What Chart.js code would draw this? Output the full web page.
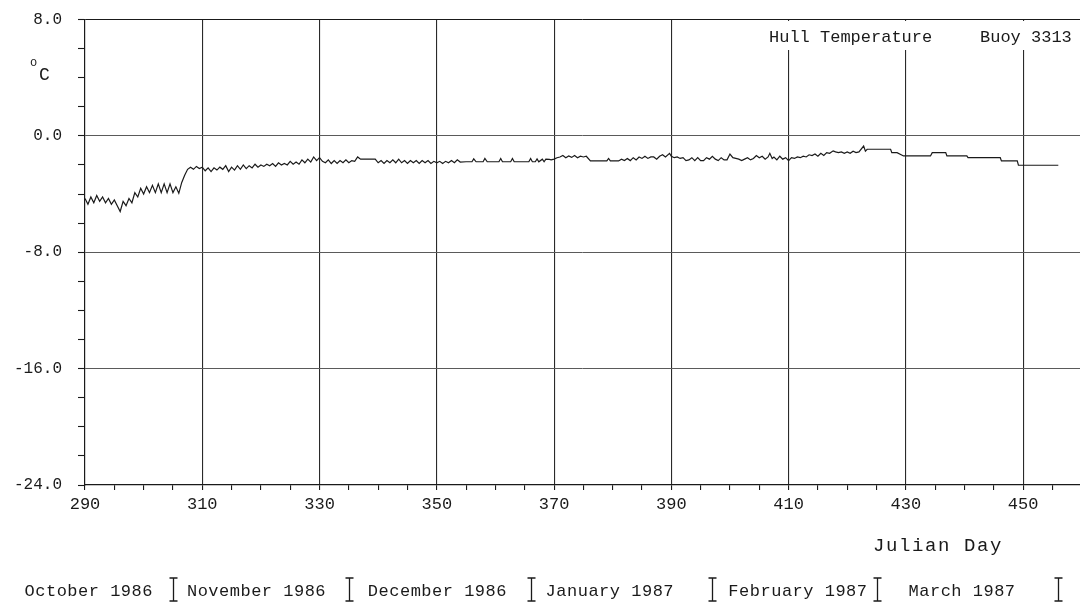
<!DOCTYPE html>
<html><head><meta charset="utf-8">
<script src="https://cdn.jsdelivr.net/npm/chart.js@4"></script>
<style>html,body{margin:0;padding:0;background:#fff}#wrap{width:1080px;height:607px}</style>
</head><body><div id="wrap"><canvas id="c" width="1080" height="607"></canvas></div>
<script>
// ---- data ----
const days = [
290,290.5,291,291.5,292,292.5,293,293.5,294,294.5, 295,295.5,296,296.5,297,297.5,298,298.5,299,299.5,
300,300.5,301,301.5,302,302.5,303,303.5,304,304.5, 305,305.5,306,306.5,307,307.5,308,308.5,309,309.5, 310,
310.5,311,311.5,312,312.5,313,313.5,314,314.5,315, 315.5,316,316.5,317,317.5,318,318.5,319,319.5,320,
320.5,321,321.5,322,322.5,323,323.5,324,324.5,325, 325.5,326,326.5,327,327.5,328,328.5,329,329.5,330,
330.5,331,331.5,332,332.5,333,333.5,334,334.5,335, 335.5,336,336.5,337,339.5,340,340.5,341,341.5,342,
342.5,343,343.5,344,344.5,345,345.5,346,346.5,347, 347.5,348,348.5,349,349.5,350,
350.5,351,351.5,352,352.5,353,353.5,354,355,356, 356.3,356.7,357.9,358.2,358.6,360.6,360.9,361.2,362.6,362.9,
363.2,365.7,366,366.3,366.8,367.1,367.4,368,368.3,368.6, 369.2,369.5,370,
370.5,371,371.5,372,372.5,373,373.5,374,374.5,375, 375.5,376.2,379,379.3,379.6,381,381.5,382,382.5,383,
383.5,384,384.5,385,385.5,386,386.5,387,387.5,388, 388.5,389,389.7,390,
390.5,391,391.5,392,392.5,393,393.5,394,394.5,395, 395.5,396,396.5,397,397.5,398,398.5,399,399.5,400,
400.5,401,401.5,402,402.5,403,403.5,404,404.5,405, 405.5,406,406.5,406.8,407.2,407.5,408,408.5,409,409.5, 410,
410.5,411,411.5,412,412.5,413,413.5,414,414.5,415, 415.5,416,416.5,417,417.6,418,418.5,419,419.5,420,
420.5,421,421.5,422,422.8,423.1,423.4,427.4,427.6,428.5, 429.6,434.2,434.5,436.8,437,440.4,440.6,446.1,446.3,449,
449.2,456
];
const temps = [
-4.3,-4.7,-4.2,-4.6,-4.1,-4.5,-4.2,-4.6,-4.3,-4.7, -4.4,-4.8,-5.2,-4.5,-4.8,-4.3,-4.6,-3.9,-4.2,-3.6,
-4.0,-3.5,-3.9,-3.4,-3.9,-3.3,-3.9,-3.3,-3.9,-3.3, -3.9,-3.5,-3.95,-3.2,-2.7,-2.3,-2.15,-2.3,-2.1,-2.25, -2.15,
-2.4,-2.2,-2.45,-2.2,-2.35,-2.15,-2.3,-2.05,-2.45,-2.15, -2.35,-2.05,-2.3,-2.0,-2.25,-2.05,-2.2,-1.95,-2.15,-2.0,
-2.1,-1.95,-2.05,-1.9,-2.1,-1.85,-2.0,-1.9,-2.0,-1.75, -1.95,-1.8,-1.95,-1.65,-1.85,-1.6,-1.8,-1.45,-1.7,-1.5,
-1.75,-1.85,-1.65,-1.9,-1.7,-1.9,-1.7,-1.85,-1.65,-1.85, -1.7,-1.75,-1.45,-1.6,-1.6,-1.85,-1.7,-1.9,-1.7,-1.85,
-1.65,-1.85,-1.6,-1.85,-1.7,-1.9,-1.7,-1.85,-1.7,-1.9, -1.7,-1.85,-1.7,-1.9,-1.75,-1.85,
-1.75,-1.9,-1.75,-1.85,-1.7,-1.85,-1.65,-1.8,-1.78,-1.78, -1.58,-1.78,-1.78,-1.55,-1.78,-1.78,-1.55,-1.78,-1.78,-1.55,
-1.78,-1.78,-1.55,-1.78,-1.78,-1.58,-1.78,-1.6,-1.78,-1.6, -1.62,-1.65,-1.6,
-1.5,-1.45,-1.35,-1.5,-1.38,-1.48,-1.35,-1.5,-1.4,-1.45, -1.4,-1.72,-1.72,-1.55,-1.72,-1.72,-1.6,-1.7,-1.55,-1.7,
-1.5,-1.65,-1.45,-1.55,-1.4,-1.55,-1.45,-1.45,-1.6,-1.4, -1.3,-1.45,-1.2,-1.4,
-1.5,-1.45,-1.55,-1.5,-1.7,-1.65,-1.5,-1.7,-1.5,-1.7, -1.7,-1.5,-1.6,-1.4,-1.6,-1.7,-1.5,-1.65,-1.65,-1.25,
-1.5,-1.55,-1.6,-1.7,-1.6,-1.5,-1.65,-1.55,-1.35,-1.5, -1.4,-1.6,-1.45,-1.2,-1.55,-1.45,-1.65,-1.4,-1.6,-1.5, -1.7,
-1.5,-1.55,-1.45,-1.5,-1.4,-1.45,-1.3,-1.35,-1.25,-1.4, -1.2,-1.35,-1.15,-1.2,-1.03,-1.1,-1.15,-1.1,-1.2,-1.1,
-1.2,-1.05,-1.15,-1.1,-0.7,-1.05,-0.92,-0.92,-1.15,-1.15, -1.38,-1.38,-1.15,-1.15,-1.38,-1.38,-1.5,-1.5,-1.72,-1.72,
-2.02,-2.02
];
const xMin = 290, xMax = 459.7, xMinorStep = 5, xMajorStep = 20;
const yMin = -24, yMax = 8, yMinorStep = 2, yMajorStep = 8;
const yGridValues = [0, -8, -16];
const monthNames = ['October 1986','November 1986','December 1986','January 1987','February 1987','March 1987'];
const monthBounds = [305, 335, 366, 397, 425, 456];
const titleLeft = 'Hull Temperature';
const titleRight = 'Buoy 3313';
const xTitle = 'Julian Day';
const yUnitSup = 'o', yUnit = 'C';

// ---- styling ----
const FONT = '"Liberation Mono", "Courier New", monospace';
const INK = '#1a1a1a';
const monthGaps = [14, 19, 15, 16, 32];

const decor = {
  id: 'decor',
  afterDraw(chart) {
    const {ctx, chartArea: a} = chart;
    const xs = chart.scales.x;
    ctx.save();
    // clear grid behind the title
    ctx.fillStyle = '#fff';
    ctx.fillRect(760, a.top + 1.5, 1080 - 760, 50 - (a.top + 1.5));
    ctx.fillStyle = INK;
    ctx.textBaseline = 'alphabetic';
    ctx.textAlign = 'left';
    ctx.font = '17px ' + FONT;
    ctx.fillText(titleLeft, 769, 42);
    ctx.fillText(titleRight, 980, 42);
    // unit
    ctx.font = '12px ' + FONT;
    ctx.fillText(yUnitSup, 30, 66);
    ctx.font = '18px ' + FONT;
    ctx.fillText(yUnit, 39, 80);
    // axis title
    ctx.font = '19px ' + FONT;
    ctx.letterSpacing = '1.6px';
    ctx.fillText(xTitle, 873, 551);
    // months
    ctx.font = '17px ' + FONT;
    ctx.letterSpacing = '0.5px';
    const bars = monthBounds.map(d => xs.getPixelForValue(d));
    monthNames.forEach((name, i) => {
      if (i === 0) { ctx.textAlign = 'right'; ctx.fillText(name, bars[0] - 20, 596); }
      else { ctx.textAlign = 'left'; ctx.fillText(name, bars[i - 1] + monthGaps[i - 1], 596); }
    });
    ctx.strokeStyle = INK;
    ctx.lineWidth = 1.3;
    bars.forEach(px => {
      const bx = Math.round(px) + 0.5;
      ctx.beginPath();
      ctx.moveTo(bx, 578); ctx.lineTo(bx, 601);
      ctx.moveTo(bx - 4, 578); ctx.lineTo(bx + 4, 578);
      ctx.moveTo(bx - 4, 601); ctx.lineTo(bx + 4, 601);
      ctx.stroke();
    });
    ctx.restore();
  }
};

function zeroPad(s) { s.paddingTop = 0; s.paddingBottom = 0; s.paddingLeft = 0; s.paddingRight = 0; }

new Chart(document.getElementById('c').getContext('2d'), {
  type: 'scatter',
  data: { datasets: [{
    data: days.map((d, i) => ({x: d, y: temps[i]})),
    showLine: true, borderColor: INK, borderWidth: 1.2, pointRadius: 0, tension: 0
  }]},
  options: {
    responsive: false, animation: false, devicePixelRatio: 1,
    layout: { padding: { top: 19.5, left: 0, right: 0, bottom: 0 } },
    plugins: { legend: { display: false }, tooltip: { enabled: false } },
    scales: {
      x: {
        type: 'linear', min: xMin, max: xMax,
        afterFit(s) { s.height = 122; zeroPad(s); },
        ticks: {
          stepSize: xMinorStep, includeBounds: false, autoSkip: false, maxRotation: 0,
          font: { family: FONT, size: 17 }, color: INK, padding: 4,
          callback: v => ((v - xMin) % xMajorStep === 0 ? String(v) : '')
        },
        grid: {
          color: c => (c.tick && (c.tick.value - xMin) % xMajorStep === 0 && c.tick.value !== xMin) ? '#2a2a2a' : 'rgba(0,0,0,0)',
          lineWidth: 1.1, tickLength: 5, tickColor: INK, tickWidth: 1.1, drawTicks: true
        },
        border: { display: true, color: INK, width: 1.2 }
      },
      y: {
        min: yMin, max: yMax,
        afterFit(s) { s.width = 85; zeroPad(s); },
        ticks: {
          stepSize: yMinorStep, autoSkip: false,
          font: { family: FONT, size: 16 }, color: INK, padding: 16,
          callback: v => (v % yMajorStep === 0 ? v.toFixed(1) : '')
        },
        grid: {
          color: c => {
            const v = c.tick ? c.tick.value : null;
            if (v === yMax) return INK;
            if (yGridValues.includes(v)) return '#5a5a5a';
            return 'rgba(0,0,0,0)';
          },
          lineWidth: 1, tickLength: 7, tickColor: INK, tickWidth: 1.1, drawTicks: true
        },
        border: { display: true, color: INK, width: 1.2 }
      }
    }
  },
  plugins: [decor]
});
</script></body></html>
